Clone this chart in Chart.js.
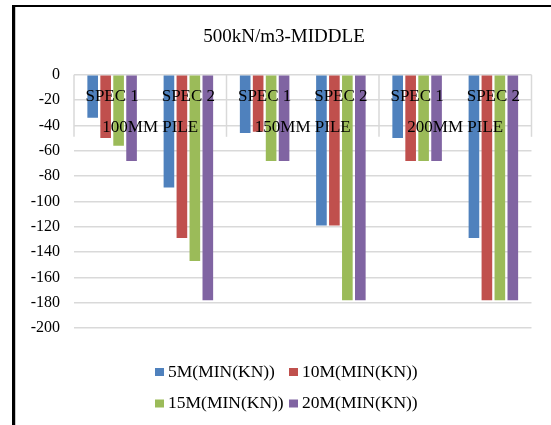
<!DOCTYPE html>
<html>
<head>
<meta charset="utf-8">
<script src="https://cdn.jsdelivr.net/npm/chart.js@4.4.1/dist/chart.umd.min.js"></script>
<style>
  html, body { margin: 0; padding: 0; background: #ffffff; }
  #wrap { position: relative; width: 551px; height: 425px; overflow: hidden; }
  #frame { position: absolute; left: 12px; top: 5px; width: 700px; height: 600px;
           border-top: 2px solid #000; border-left: 3px solid #000; box-shadow: inset 1px 0 0 #c8c8c8; }
  canvas { position: absolute; left: 0; top: 0; }
</style>
</head>
<body>
<div id="wrap">
  <div id="frame"></div>
  <canvas id="c" width="551" height="425"></canvas>
</div>
<script>
// ---- data ----
const titleText = '500kN/m3-MIDDLE';
const categories = ['SPEC 1', 'SPEC 2', 'SPEC 1', 'SPEC 2', 'SPEC 1', 'SPEC 2'];
const groups = ['100MM PILE', '150MM PILE', '200MM PILE'];
const seriesNames = ['5M(MIN(KN))', '10M(MIN(KN))', '15M(MIN(KN))', '20M(MIN(KN))'];
const s5M  = [-34, -89, -46, -119, -50, -129];
const s10M = [-50, -129, -45, -119, -68, -178];
const s15M = [-56, -147, -68, -178, -68, -178];
const s20M = [-68, -178, -68, -178, -68, -178];
const yTicks = [0, -20, -40, -60, -80, -100, -120, -140, -160, -180, -200];

const colors = ['#4F81BD', '#C0504D', '#9BBB59', '#8064A2'];
const serif = "'Liberation Serif', 'Times New Roman', serif";
const pad = { left: 20, right: 3, top: 16, bottom: 97 };

// multi-level category labels + group separators
const catLabels = {
  id: 'catLabels',
  afterDatasetsDraw(chart) {
    const x = chart.scales.x, y = chart.scales.y, ctx = chart.ctx;
    const area = chart.chartArea;
    const y0 = y.getPixelForValue(0);
    const per = categories.length / groups.length;
    ctx.save();
    ctx.strokeStyle = '#d9d9d9';
    ctx.lineWidth = 1.5;
    for (let g = 0; g <= groups.length; g++) {
      let px;
      if (g === 0) px = area.left;
      else if (g === groups.length) px = area.right;
      else px = (x.getPixelForValue(g * per - 1) + x.getPixelForValue(g * per)) / 2;
      ctx.beginPath();
      ctx.moveTo(px, y0);
      ctx.lineTo(px, y0 + 62);
      ctx.stroke();
    }
    ctx.fillStyle = '#000';
    ctx.textAlign = 'center';
    ctx.textBaseline = 'middle';
    ctx.font = '17px ' + serif;
    categories.forEach((c, i) => {
      ctx.fillText(c, x.getPixelForValue(i), y0 + 22);
    });
    groups.forEach((g, k) => {
      const a = x.getPixelForValue(k * per), b = x.getPixelForValue(k * per + per - 1);
      ctx.fillText(g, (a + b) / 2, y0 + 53);
    });
    ctx.restore();
  }
};

// legend (2x2 grid, centred on the chart)
const gridLegend = {
  id: 'gridLegend',
  afterDraw(chart) {
    const ctx = chart.ctx;
    const cx = (pad.left + chart.width - pad.right) / 2;
    const base = chart.chartArea.bottom;
    const cols = [cx - 129, cx + 5];
    const rows = [base + 44, base + 75.5];
    ctx.save();
    ctx.font = '17.5px ' + serif;
    ctx.textAlign = 'left';
    ctx.textBaseline = 'middle';
    chart.data.datasets.forEach((ds, i) => {
      const bx = cols[i % 2], by = rows[Math.floor(i / 2)];
      ctx.fillStyle = ds.backgroundColor;
      ctx.fillRect(bx, by - 4, 9, 8);
      ctx.fillStyle = '#000';
      ctx.fillText(ds.label, bx + 13, by);
    });
    ctx.restore();
  }
};

new Chart(document.getElementById('c'), {
  type: 'bar',
  data: {
    labels: categories,
    datasets: [s5M, s10M, s15M, s20M].map((d, i) => ({
      label: seriesNames[i],
      data: d,
      backgroundColor: colors[i],
      borderWidth: 0,
      categoryPercentage: 0.68,
      barPercentage: 0.82
    }))
  },
  options: {
    responsive: false,
    animation: false,
    devicePixelRatio: 1,
    layout: { padding: pad },
    plugins: {
      legend: { display: false },
      tooltip: { enabled: false },
      title: {
        display: true,
        text: titleText,
        color: '#000',
        font: { family: serif, size: 19, weight: 'normal' },
        padding: { top: 10, bottom: 26 }
      }
    },
    scales: {
      x: {
        display: false
      },
      y: {
        min: -200,
        max: 0,
        afterFit(scale) { scale.width = 54; },
        afterBuildTicks(scale) { scale.ticks = yTicks.map(v => ({ value: v })); },
        ticks: {
          color: '#000',
          padding: 14,
          font: { family: serif, size: 16 }
        },
        grid: { color: '#d9d9d9', lineWidth: 1.5, drawTicks: false },
        border: { display: false }
      },
      yRight: {
        position: 'right',
        display: true,
        afterFit(scale) { scale.width = 16.5; },
        ticks: { display: false },
        grid: { display: false, drawTicks: false },
        border: { display: false }
      }
    }
  },
  plugins: [catLabels, gridLegend]
});
</script>
</body>
</html>
